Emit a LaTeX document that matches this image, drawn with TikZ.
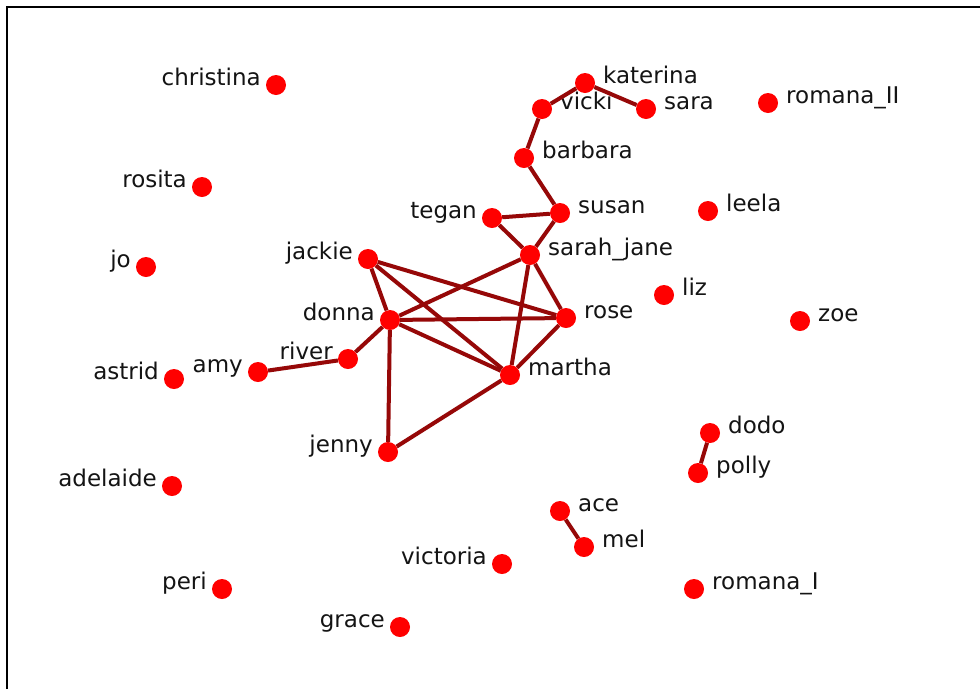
\documentclass[tikz,border=0pt]{standalone}
\usepackage{fontspec}
\setmainfont{DejaVu Sans}
\usepackage{xcolor}
\usetikzlibrary{positioning}
\definecolor{dotRed}{HTML}{FF0000}
\definecolor{tieRed}{HTML}{960808}
\definecolor{nameGray}{HTML}{141414}

\begin{document}
\begin{tikzpicture}[x=1pt, y=-1pt,
    node distance=18pt,
    who/.style={circle, fill=dotRed, inner sep=0pt, minimum size=20pt},
    tag/.style={font=\fontsize{23}{23}\selectfont, text=nameGray, inner sep=0pt},
    tagL/.style={tag, anchor=base east},
    tagR/.style={tag, anchor=base west},
    tie/.style={draw=tieRed, line width=4pt}]
    \useasboundingbox (0,0) rectangle (980,689);
    \fill[white] (0,0) rectangle (980,689);
    \draw[line width=2pt, black] (7,689) -- (7,7) -- (980,7);

    % people
    \node[who] (christina) at (276,85) {};
    \node[who] (rosita) at (202,187) {};
    \node[who] (jo) at (146,267) {};
    \node[who] (astrid) at (174,379) {};
    \node[who] (adelaide) at (172,486) {};
    \node[who] (peri) at (222,589) {};
    \node[who] (grace) at (400,627) {};
    \node[who] (victoria) at (502,564) {};
    \node[who] (amy) at (258,372) {};
    \node[who] (river) at (348,359) {};
    \node[who] (donna) at (390,320) {};
    \node[who] (jackie) at (368,259) {};
    \node[who] (jenny) at (388,452) {};
    \node[who] (martha) at (510,375) {};
    \node[who] (rose) at (566,318) {};
    \node[who] (sarahjane) at (530,255) {};
    \node[who] (tegan) at (492,218) {};
    \node[who] (susan) at (560,213) {};
    \node[who] (barbara) at (524,158) {};
    \node[who] (vicki) at (542,109) {};
    \node[who] (katerina) at (585,83) {};
    \node[who] (sara) at (646,109) {};
    \node[who] (romanaII) at (768,103) {};
    \node[who] (leela) at (708,211) {};
    \node[who] (liz) at (664,295) {};
    \node[who] (zoe) at (800,321) {};
    \node[who] (dodo) at (710,433) {};
    \node[who] (polly) at (698,473) {};
    \node[who] (ace) at (560,511) {};
    \node[who] (mel) at (584,547) {};
    \node[who] (romanaI) at (694,589) {};

    % names
    \begin{scope}[node distance=15pt]
    \node[left=of christina.center, tagL] (christinaT) {christina};
    \node[left=of rosita.center, tagL] (ositaT) {rosita};
    \node[left=of jo.center, tagL] (joT) {jo};
    \node[left=of astrid.center, tagL] (astridT) {astrid};
    \node[left=of adelaide.center, tagL] (adelaideT) {adelaide};
    \node[left=of peri.center, tagL] (periT) {peri};
    \node[left=of grace.center, tagL] (graceT) {grace};
    \node[left=of victoria.center, tagL] (victoriaT) {victoria};
    \node[left=of amy.center, tagL] (amyT) {amy};
    \node[left=of river.center, tagL] (riverT) {river};
    \node[left=of donna.center, tagL] (donnaT) {donna};
    \node[left=of jackie.center, tagL] (jackieT) {jackie};
    \node[left=of jenny.center, tagL] (jennyT) {jenny};
    \node[left=of tegan.center, tagL] (teganT) {tegan};
    \end{scope}
    \node[right=of martha.center, tagR] (marthaT) {martha};
    \node[right=of rose.center, tagR] (roseT) {rose};
    \node[right=of sarahjane.center, tagR] (sarahjaneT) {sarah\_jane};
    \node[right=of susan.center, tagR] (susanT) {susan};
    \node[right=of barbara.center, tagR] (barbaraT) {barbara};
    \node[right=of vicki.center, tagR] (vickiT) {vicki};
    \node[right=of katerina.center, tagR] (katerinaT) {katerina};
    \node[right=of sara.center, tagR] (saraT) {sara};
    \node[right=of romanaII.center, tagR] (romanaIIT) {romana\_II};
    \node[right=of leela.center, tagR] (leelaT) {leela};
    \node[right=of liz.center, tagR] (lizT) {liz};
    \node[right=of zoe.center, tagR] (zoeT) {zoe};
    \node[right=of dodo.center, tagR] (dodoT) {dodo};
    \node[right=of polly.center, tagR] (pollyT) {polly};
    \node[right=of ace.center, tagR] (aceT) {ace};
    \node[right=of mel.center, tagR] (melT) {mel};
    \node[right=of romanaI.center, tagR] (romanaIT) {romana\_I};

    % ties
    \draw[tie] (katerina) -- (vicki);
    \draw[tie] (katerina) -- (sara);
    \draw[tie] (vicki) -- (barbara);
    \draw[tie] (barbara) -- (susan);
    \draw[tie] (susan) -- (tegan);
    \draw[tie] (susan) -- (sarahjane);
    \draw[tie] (tegan) -- (sarahjane);
    \draw[tie] (sarahjane) -- (donna);
    \draw[tie] (sarahjane) -- (martha);
    \draw[tie] (sarahjane) -- (rose);
    \draw[tie] (jackie) -- (donna);
    \draw[tie] (jackie) -- (martha);
    \draw[tie] (jackie) -- (rose);
    \draw[tie] (donna) -- (rose);
    \draw[tie] (donna) -- (martha);
    \draw[tie] (donna) -- (river);
    \draw[tie] (donna) -- (jenny);
    \draw[tie] (river) -- (amy);
    \draw[tie] (rose) -- (martha);
    \draw[tie] (martha) -- (jenny);
    \draw[tie] (dodo) -- (polly);
    \draw[tie] (ace) -- (mel);
  \end{tikzpicture}
\end{document}
